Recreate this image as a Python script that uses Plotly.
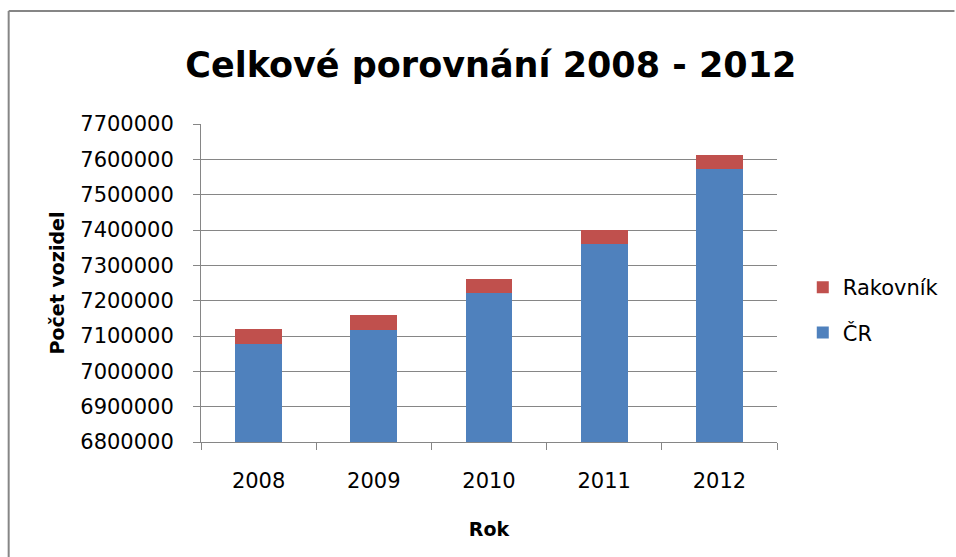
import plotly.graph_objects as go

# Registered vehicles by year
years = ["2008", "2009", "2010", "2011", "2012"]
cr_values = [7078700, 7118400, 7221000, 7359200, 7572500]
rakovnik_values = [40600, 40500, 40000, 40800, 39700]

y_ticks = [6800000 + i * 100000 for i in range(10)]

BLUE = "#4F81BD"
RED = "#C0504D"
GRID = "#868686"
FONT = "DejaVu Sans"

# plot area in pixels
W, H = 956, 557
L, R, T, B = 201, 782, 124, 442


def px_x(x):
    return (x - L) / (R - L)


def px_y(y):
    return (B - y) / (B - T)


fig = go.Figure()
fig.add_trace(go.Bar(x=years, y=cr_values, name="ČR", marker_color=BLUE,
                     marker_line_width=0, legendgroup="cr", legendrank=2))
fig.add_trace(go.Bar(x=years, y=rakovnik_values, name="Rakovník", marker_color=RED,
                     marker_line_width=0, legendgroup="rak", legendrank=1))

fig.update_layout(
    width=W, height=H,
    barmode="stack",
    bargap=0.595,
    plot_bgcolor="white",
    paper_bgcolor="white",
    margin=dict(l=L, r=W - R, t=T, b=H - B, pad=0),
    title=dict(
        text="<b>Celkové porovnání 2008 - 2012</b>",
        font=dict(family=FONT, size=35, color="black"),
        x=481 / W, xanchor="center", xref="paper",
        y=1 - 65 / H, yanchor="middle", yref="container",
    ),
    legend=dict(
        x=px_x(808), y=px_y(267), xanchor="left", yanchor="top",
        traceorder="grouped", tracegroupgap=15,
        font=dict(family=FONT, size=21, color="black"),
        bgcolor="rgba(0,0,0,0)",
    ),
    font=dict(family=FONT, color="black"),
)

fig.update_xaxes(
    type="category",
    showline=True, linecolor=GRID, linewidth=1,
    ticks="outside", tickson="boundaries", ticklen=7, tickcolor=GRID,
    tickfont=dict(family=FONT, size=21, color="black"),
    ticklabelstandoff=20,
    title=dict(text="<b>Rok</b>", font=dict(family=FONT, size=19, color="black"),
               standoff=30),
    showgrid=False,
)
fig.update_yaxes(
    range=[6800000, 7700000],
    tickvals=y_ticks, tickformat="d",
    showline=True, linecolor=GRID, linewidth=1,
    ticks="outside", ticklen=7, tickcolor=GRID,
    showgrid=True, gridcolor=GRID, gridwidth=1,
    tickfont=dict(family=FONT, size=21, color="black"),
    ticklabelstandoff=15,
    title=dict(text="<b>Počet vozidel</b>", font=dict(family=FONT, size=19, color="black"),
               standoff=10),
    zeroline=False,
)

# chart frame (left and top edges)
frame = dict(type="line", xref="paper", yref="paper",
             line=dict(color=GRID, width=2), layer="below")
fig.add_shape(**frame, x0=px_x(7), x1=px_x(7), y0=px_y(11), y1=px_y(H + 5))
fig.add_shape(**frame, x0=px_x(7), x1=px_x(W + 5), y0=px_y(11), y1=px_y(11))

fig.write_html("out.html")
